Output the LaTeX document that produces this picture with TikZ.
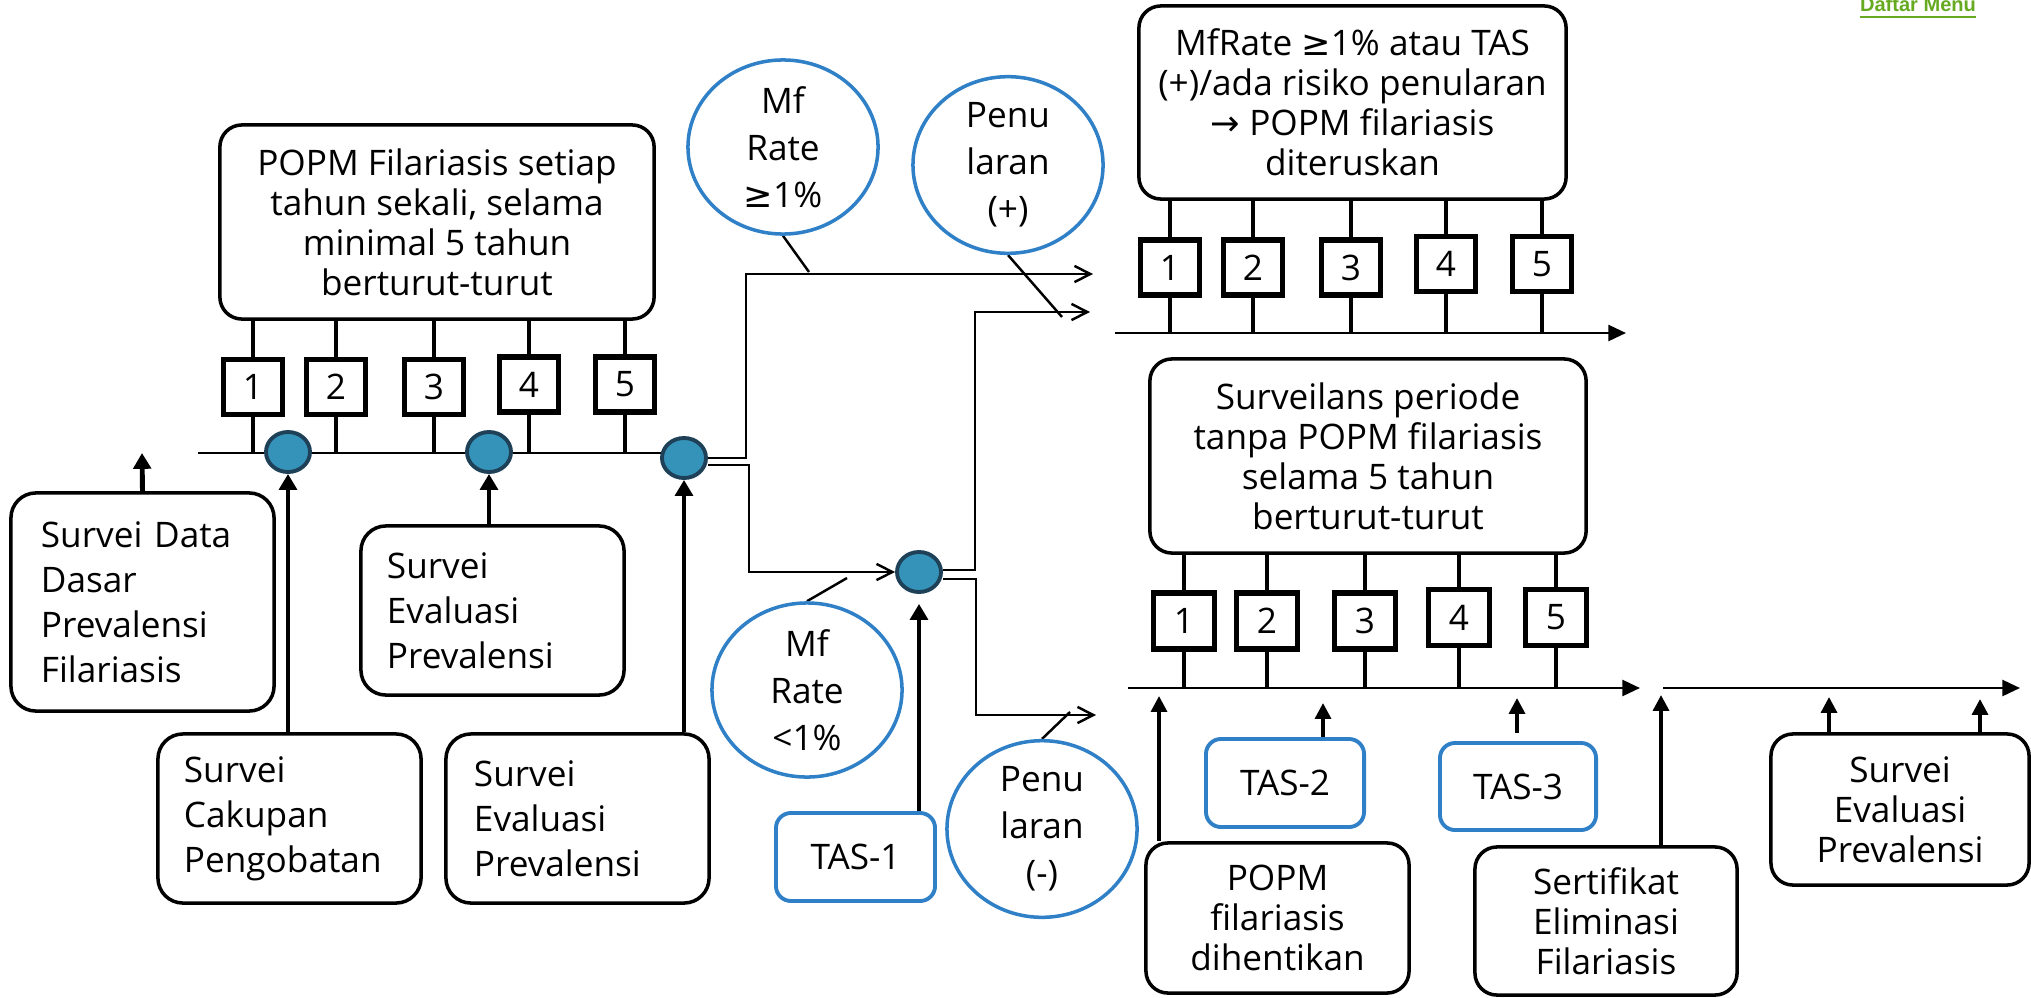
\documentclass[tikz,border=0pt]{standalone}
\usepackage{fontspec}
\setmainfont{Open Sans}
\newfontfamily\symfont{DejaVu Sans}
\newfontfamily\menufont{Liberation Sans}
\usetikzlibrary{shapes.geometric,arrows.meta,calc}
\pgfdeclarelayer{bg}
\pgfsetlayers{bg,main}
\definecolor{tasblue}{RGB}{47,128,199}
\definecolor{dotfill}{RGB}{53,146,184}
\definecolor{dotedge}{RGB}{30,65,88}
\definecolor{menugreen}{RGB}{102,170,34}
\newcommand{\gesym}{{\symfont ≥}}
\newcommand{\rarrsym}{{\symfont →}}
\begin{document}
\begin{tikzpicture}[x=0.01cm,y=-0.01cm,
 txt/.style={font=\fontsize{10pt}{11.4pt}\selectfont},
 box/.style={draw,line width=1pt,rounded corners=0.22cm,fill=white,align=center,inner sep=0pt,txt},
 lbox/.style={draw,line width=1pt,rounded corners=0.25cm,fill=white,align=left,inner ysep=0pt,font=\fontsize{10pt}{12.8pt}\selectfont,minimum height=1.69cm},
 numbox/.style={draw,line width=1.5pt,fill=white,minimum width=0.59cm,minimum height=0.55cm,inner sep=0pt,txt},
 tasbox/.style={draw=tasblue,line width=1.1pt,rounded corners=0.15cm,fill=white,inner sep=0pt,txt},
 bubble/.style={ellipse,draw=tasblue,line width=1pt,fill=white,minimum width=1.9cm,minimum height=1.74cm,inner sep=0pt,align=center,font=\fontsize{10pt}{13.4pt}\selectfont},
 dot/.style={ellipse,draw=dotedge,fill=dotfill,line width=1.1pt,minimum width=0.44cm,minimum height=0.40cm,inner sep=0pt},
 tick/.style={line width=1.3pt},
 axisarrow/.style={line width=0.8pt,-{Triangle[length=5pt,width=4.5pt]}},
 uparrow/.style={line width=1.4pt,-{Triangle[length=4.5pt,width=5pt]}},
 uparrowthin/.style={line width=1pt,-{Triangle[length=4.5pt,width=4.5pt]}},
 flow/.style={line width=0.7pt,-{Straight Barb[length=4.5pt,width=4.6pt]}},
 leader/.style={line width=0.7pt}
]
\useasboundingbox (0,0) rectangle (2031,997);

% ---------- left part ----------
\node[box,minimum width=4.34cm,minimum height=1.94cm] (popm) at (437,222)
  {POPM Filariasis setiap\\tahun sekali, selama\\minimal 5 tahun\\berturut-turut};
\node[numbox] (n1) at (253,387) {1};
\node[numbox] (n2) at (336,387) {2};
\node[numbox] (n3) at (434,387) {3};
\node[numbox] (n4) at (529,384.5) {4};
\node[numbox] (n5) at (625,384.5) {5};

\coordinate (tlL) at (198,453);
\coordinate (tlLe) at (707,453);

\node[dot] (d1) at (288,452) {};
\node[dot] (d2) at (489,452) {};
\node[dot] (d3) at (684,458) {};
\node[dot] (d4) at (919,572) {};

\node[lbox,text width=2.03cm,inner xsep=0.30cm,minimum height=2.18cm] (sdd) at (142.5,602)
  {Survei Data\\Dasar\\Prevalensi\\Filariasis};
\node[lbox,text width=2.11cm,inner xsep=0.26cm] (scp) at (289.5,818.5)
  {Survei\\Cakupan\\Pengobatan};
\node[lbox,text width=2.11cm,inner xsep=0.26cm] (sep1) at (492.5,610.5)
  {Survei\\Evaluasi\\Prevalensi};
\node[lbox,text width=2.07cm,inner xsep=0.28cm] (sep2) at (577.5,818.5)
  {Survei\\Evaluasi\\Prevalensi};
\coordinate (sddtip) at (142,453);

% ---------- bubbles ----------
\node[bubble] (mf1) at (783,147) {Mf\\Rate\\\gesym1\%};
\node[bubble] (pen1) at (1008,165) {Penu\\laran\\(+)};
\node[bubble] (mf2) at (807,690) {Mf\\Rate\\<1\%};
\node[bubble] (pen2) at (1042,829) {Penu\\laran\\(-)};
\node[tasbox,minimum width=1.59cm,minimum height=0.88cm] (tas1) at (855.5,857) {TAS-1};

\coordinate (a1) at (1093,274);
\coordinate (a2) at (1090,312);
\coordinate (a3) at (1096,715);
\coordinate (l1) at (809,272);
\coordinate (l2) at (1062,317);
\coordinate (l3) at (847,578);
\coordinate (l4) at (1070,712);

% ---------- top right ----------
\node[box,minimum width=4.27cm,minimum height=1.93cm] (mfr) at (1352.5,102.5)
  {MfRate \gesym1\% atau TAS\\(+)/ada risiko penularan\\\rarrsym{} POPM filariasis\\diteruskan};
\node[numbox] (m1) at (1170,267.5) {1};
\node[numbox] (m2) at (1253,267.5) {2};
\node[numbox] (m3) at (1351,267.5) {3};
\node[numbox] (m4) at (1446,264) {4};
\node[numbox] (m5) at (1542,264) {5};
\coordinate (tlR1s) at (1115,333);
\coordinate (tlR1e) at (1626,333);

% ---------- surveilans ----------
\node[box,minimum width=4.36cm,minimum height=1.94cm] (sv) at (1368,456)
  {Surveilans periode\\tanpa POPM filariasis\\selama 5 tahun\\berturut-turut};
\node[numbox,minimum width=0.61cm,minimum height=0.56cm] (s1) at (1184,621) {1};
\node[numbox,minimum width=0.61cm,minimum height=0.56cm] (s2) at (1267,621) {2};
\node[numbox,minimum width=0.61cm,minimum height=0.56cm] (s3) at (1365,621) {3};
\node[numbox,minimum width=0.61cm,minimum height=0.56cm] (s4) at (1459,617.5) {4};
\node[numbox,minimum width=0.61cm,minimum height=0.56cm] (s5) at (1556,617.5) {5};
\coordinate (tlR2s) at (1128,688);
\coordinate (tlR2e) at (1640,688);
\coordinate (tlR3s) at (1663,688);
\coordinate (tlR3e) at (2020,688);

% ---------- bottom right ----------
\node[tasbox,minimum width=1.58cm,minimum height=0.88cm] (tas2) at (1285,783) {TAS-2};
\node[tasbox,minimum width=1.56cm,minimum height=0.87cm] (tas3) at (1518,786.5) {TAS-3};
\node[box,minimum width=2.63cm,minimum height=1.50cm] (pd) at (1277.5,918)
  {POPM\\filariasis\\dihentikan};
\node[box,minimum width=2.62cm,minimum height=1.48cm] (sert) at (1606,921)
  {Sertifikat\\Eliminasi\\Filariasis};
\node[box,minimum width=2.58cm,minimum height=1.51cm] (sep3) at (1900,809.5)
  {Survei\\Evaluasi\\Prevalensi};
\coordinate (t2tip) at (1323,703);
\coordinate (t3tip) at (1517,698);
\coordinate (pdtip) at (1159,696);
\coordinate (serttip) at (1661,695);
\coordinate (e1tip) at (1829,697);
\coordinate (e2tip) at (1980,699);

\node[anchor=base,font=\menufont\bfseries\fontsize{5.7pt}{6pt}\selectfont,text=menugreen,inner sep=0pt] (menu) at (1918,12) {\underline{Daftar Menu}};

% ---------- connectors ----------
\begin{pgfonlayer}{bg}
 \draw[axisarrow] (tlL) -- (tlLe);
 \foreach \n in {n1,n2,n3,n4,n5}{
   \draw[tick] (popm.south -| \n.north) -- (\n.north);
   \draw[tick] (\n.south) -- (\n.south |- tlL);
 }
 \draw[uparrow] (sdd.north) -- (sddtip);
 \draw[uparrow] (d1.south |- scp.north) -- (d1.south);
 \draw[uparrow] (d2.south |- sep1.north) -- (d2.south);
 \draw[uparrow] (d3.south |- sep2.north) -- (d3.south);

 \draw[flow] (d3.east) -- (746,458) |- (a1);
 \draw[flow] ($(d3.east)+(0,7)$) -- (749,465) |- (d4.west);
 \draw[flow] ($(d4.east)+(0,-2)$) -- (975,570) |- (a2);
 \draw[flow] ($(d4.east)+(0,7)$) -- (976,579) |- (a3);
 \draw[leader] (mf1.south) -- (l1);
 \draw[leader] (pen1.south) -- (l2);
 \draw[leader] (mf2.north) -- (l3);
 \draw[leader] (pen2.north) -- (l4);
 \draw[uparrow] (d4.south |- tas1.north) -- ($(d4.south)+(0,10)$);

 \draw[axisarrow] (tlR1s) -- (tlR1e);
 \foreach \n in {m1,m2,m3,m4,m5}{
   \draw[tick] (mfr.south -| \n.north) -- (\n.north);
   \draw[tick] (\n.south) -- (\n.south |- tlR1s);
 }
 \draw[axisarrow] (tlR2s) -- (tlR2e);
 \draw[axisarrow] (tlR3s) -- (tlR3e);
 \foreach \n in {s1,s2,s3,s4,s5}{
   \draw[tick] (sv.south -| \n.north) -- (\n.north);
   \draw[tick] (\n.south) -- (\n.south |- tlR2s);
 }
 \draw[uparrowthin] (t2tip |- tas2.north) -- (t2tip);
 \draw[uparrowthin] ($(t3tip |- tas3.north)+(0,-8)$) -- (t3tip);
 \draw[uparrowthin] (pdtip |- pd.north) -- (pdtip);
 \draw[uparrowthin] (serttip |- sert.north) -- (serttip);
 \draw[uparrowthin] (e1tip |- sep3.north) -- (e1tip);
 \draw[uparrowthin] (e2tip |- sep3.north) -- (e2tip);
\end{pgfonlayer}
\end{tikzpicture}
\end{document}
